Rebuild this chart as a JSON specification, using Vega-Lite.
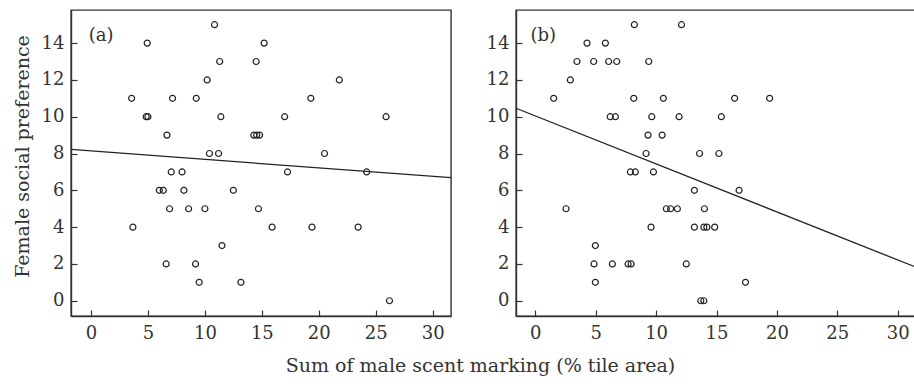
{
  "$schema": "https://vega.github.io/schema/vega-lite/v6.json",
  "autosize": {"type": "pad"},
  "padding": {"left": 12, "top": 9, "right": 0, "bottom": 0},
  "background": "white",
  "spacing": 65,
  "bounds": "flush",
  "config": {
    "font": "DejaVu Serif",
    "view": {"stroke": "#333", "strokeWidth": 1.4},
    "axis": {
      "grid": false,
      "domainColor": "#333",
      "domainWidth": 1.4,
      "tickColor": "#333",
      "tickWidth": 1.2,
      "tickSize": -6,
      "labelFont": "DejaVu Serif",
      "labelFontSize": 18,
      "labelColor": "#333",
      "titleFont": "DejaVu Serif",
      "titleFontSize": 19,
      "titleFontWeight": "normal",
      "titleColor": "#333"
    }
  },
  "datasets": {
    "pts": [
      {"p": "a", "x": 4.94, "y": 14}, {"p": "a", "x": 15.2, "y": 14}, {"p": "a", "x": 10.85, "y": 15},
      {"p": "a", "x": 11.3, "y": 13}, {"p": "a", "x": 14.5, "y": 13}, {"p": "a", "x": 10.2, "y": 12},
      {"p": "a", "x": 21.8, "y": 12}, {"p": "a", "x": 3.57, "y": 11}, {"p": "a", "x": 7.16, "y": 11},
      {"p": "a", "x": 9.24, "y": 11}, {"p": "a", "x": 19.3, "y": 11}, {"p": "a", "x": 4.85, "y": 10},
      {"p": "a", "x": 5.0, "y": 10}, {"p": "a", "x": 11.4, "y": 10}, {"p": "a", "x": 17.0, "y": 10},
      {"p": "a", "x": 25.9, "y": 10}, {"p": "a", "x": 6.67, "y": 9}, {"p": "a", "x": 14.3, "y": 9},
      {"p": "a", "x": 14.55, "y": 9}, {"p": "a", "x": 14.8, "y": 9}, {"p": "a", "x": 10.4, "y": 8},
      {"p": "a", "x": 11.2, "y": 8}, {"p": "a", "x": 20.5, "y": 8}, {"p": "a", "x": 7.05, "y": 7},
      {"p": "a", "x": 8.0, "y": 7}, {"p": "a", "x": 17.25, "y": 7}, {"p": "a", "x": 24.2, "y": 7},
      {"p": "a", "x": 6.0, "y": 6}, {"p": "a", "x": 6.35, "y": 6}, {"p": "a", "x": 8.16, "y": 6},
      {"p": "a", "x": 12.5, "y": 6}, {"p": "a", "x": 6.9, "y": 5}, {"p": "a", "x": 8.57, "y": 5},
      {"p": "a", "x": 10.0, "y": 5}, {"p": "a", "x": 14.7, "y": 5}, {"p": "a", "x": 3.68, "y": 4},
      {"p": "a", "x": 15.9, "y": 4}, {"p": "a", "x": 19.4, "y": 4}, {"p": "a", "x": 23.45, "y": 4},
      {"p": "a", "x": 11.5, "y": 3}, {"p": "a", "x": 6.6, "y": 2}, {"p": "a", "x": 9.18, "y": 2},
      {"p": "a", "x": 9.5, "y": 1}, {"p": "a", "x": 13.16, "y": 1}, {"p": "a", "x": 26.2, "y": 0},
      {"p": "b", "x": 8.2, "y": 15}, {"p": "b", "x": 12.1, "y": 15}, {"p": "b", "x": 4.28, "y": 14},
      {"p": "b", "x": 5.8, "y": 14}, {"p": "b", "x": 3.45, "y": 13}, {"p": "b", "x": 4.83, "y": 13},
      {"p": "b", "x": 6.07, "y": 13}, {"p": "b", "x": 6.74, "y": 13}, {"p": "b", "x": 9.39, "y": 13},
      {"p": "b", "x": 2.9, "y": 12}, {"p": "b", "x": 1.52, "y": 11}, {"p": "b", "x": 8.15, "y": 11},
      {"p": "b", "x": 10.6, "y": 11}, {"p": "b", "x": 16.5, "y": 11}, {"p": "b", "x": 19.4, "y": 11},
      {"p": "b", "x": 6.2, "y": 10}, {"p": "b", "x": 6.63, "y": 10}, {"p": "b", "x": 9.64, "y": 10},
      {"p": "b", "x": 11.9, "y": 10}, {"p": "b", "x": 15.4, "y": 10}, {"p": "b", "x": 9.33, "y": 9},
      {"p": "b", "x": 10.5, "y": 9}, {"p": "b", "x": 9.17, "y": 8}, {"p": "b", "x": 13.6, "y": 8},
      {"p": "b", "x": 15.2, "y": 8}, {"p": "b", "x": 7.87, "y": 7}, {"p": "b", "x": 8.28, "y": 7},
      {"p": "b", "x": 9.78, "y": 7}, {"p": "b", "x": 13.17, "y": 6}, {"p": "b", "x": 16.87, "y": 6},
      {"p": "b", "x": 2.54, "y": 5}, {"p": "b", "x": 10.85, "y": 5}, {"p": "b", "x": 11.2, "y": 5},
      {"p": "b", "x": 11.76, "y": 5}, {"p": "b", "x": 14.0, "y": 5}, {"p": "b", "x": 9.58, "y": 4},
      {"p": "b", "x": 13.17, "y": 4}, {"p": "b", "x": 13.95, "y": 4}, {"p": "b", "x": 14.2, "y": 4},
      {"p": "b", "x": 14.85, "y": 4}, {"p": "b", "x": 4.97, "y": 3}, {"p": "b", "x": 4.86, "y": 2},
      {"p": "b", "x": 6.38, "y": 2}, {"p": "b", "x": 7.68, "y": 2}, {"p": "b", "x": 7.93, "y": 2},
      {"p": "b", "x": 12.5, "y": 2}, {"p": "b", "x": 4.97, "y": 1}, {"p": "b", "x": 17.4, "y": 1},
      {"p": "b", "x": 13.7, "y": 0}, {"p": "b", "x": 13.95, "y": 0}
    ],
    "fit": [
      {"p": "a", "x": -1.75, "y": 8.22}, {"p": "a", "x": 31.6, "y": 6.69},
      {"p": "b", "x": -1.6, "y": 10.46}, {"p": "b", "x": 31.6, "y": 1.80}
    ],
    "tags": [
      {"p": "a", "label": "(a)", "x": -0.2, "y": 14.4},
      {"p": "b", "label": "(b)", "x": -0.4, "y": 14.4}
    ]
  },
  "hconcat": [
    {
      "width": 380,
      "height": 306,
      "encoding": {
        "x": {
          "field": "x", "type": "quantitative",
          "scale": {"domain": [-1.75, 31.6], "nice": false, "zero": false},
          "axis": {"values": [0, 5, 10, 15, 20, 25, 30], "labelPadding": 14,
                   "title": "Sum of male scent marking (% tile area)",
                   "titleX": 409, "titleY": 55, "titleAlign": "center", "titleBaseline": "alphabetic"}
        },
        "y": {
          "field": "y", "type": "quantitative",
          "scale": {"domain": [-0.83, 15.8], "nice": false, "zero": false},
          "axis": {"values": [0, 2, 4, 6, 8, 10, 12, 14], "labelPadding": 13,
                   "title": "Female social preference",
                   "titleX": -43, "titleY": 146, "titleAlign": "center", "titleBaseline": "alphabetic"}
        }
      },
      "layer": [
        {
          "data": {"name": "pts"},
          "transform": [{"filter": "datum.p === 'a'"}],
          "mark": {"type": "point", "shape": "circle", "filled": false, "size": 36, "stroke": "#222", "strokeWidth": 1.2, "opacity": 1}
        },
        {
          "data": {"name": "fit"},
          "transform": [{"filter": "datum.p === 'a'"}],
          "mark": {"type": "line", "stroke": "#222", "strokeWidth": 1.3}
        },
        {
          "data": {"name": "tags"},
          "transform": [{"filter": "datum.p === 'a'"}],
          "mark": {"type": "text", "align": "left", "baseline": "middle", "fontSize": 18, "font": "DejaVu Serif", "color": "#333"},
          "encoding": {"text": {"field": "label"}}
        }
      ]
    },
    {
      "width": 401,
      "height": 306,
      "encoding": {
        "x": {
          "field": "x", "type": "quantitative",
          "scale": {"domain": [-1.6, 31.6], "nice": false, "zero": false},
          "axis": {"values": [0, 5, 10, 15, 20, 25, 30], "labelPadding": 14, "title": null}
        },
        "y": {
          "field": "y", "type": "quantitative",
          "scale": {"domain": [-0.83, 15.8], "nice": false, "zero": false},
          "axis": {"values": [0, 2, 4, 6, 8, 10, 12, 14], "labelPadding": 13, "title": null}
        }
      },
      "layer": [
        {
          "data": {"name": "pts"},
          "transform": [{"filter": "datum.p === 'b'"}],
          "mark": {"type": "point", "shape": "circle", "filled": false, "size": 36, "stroke": "#222", "strokeWidth": 1.2, "opacity": 1}
        },
        {
          "data": {"name": "fit"},
          "transform": [{"filter": "datum.p === 'b'"}],
          "mark": {"type": "line", "stroke": "#222", "strokeWidth": 1.3}
        },
        {
          "data": {"name": "tags"},
          "transform": [{"filter": "datum.p === 'b'"}],
          "mark": {"type": "text", "align": "left", "baseline": "middle", "fontSize": 18, "font": "DejaVu Serif", "color": "#333"},
          "encoding": {"text": {"field": "label"}}
        }
      ]
    }
  ]
}
